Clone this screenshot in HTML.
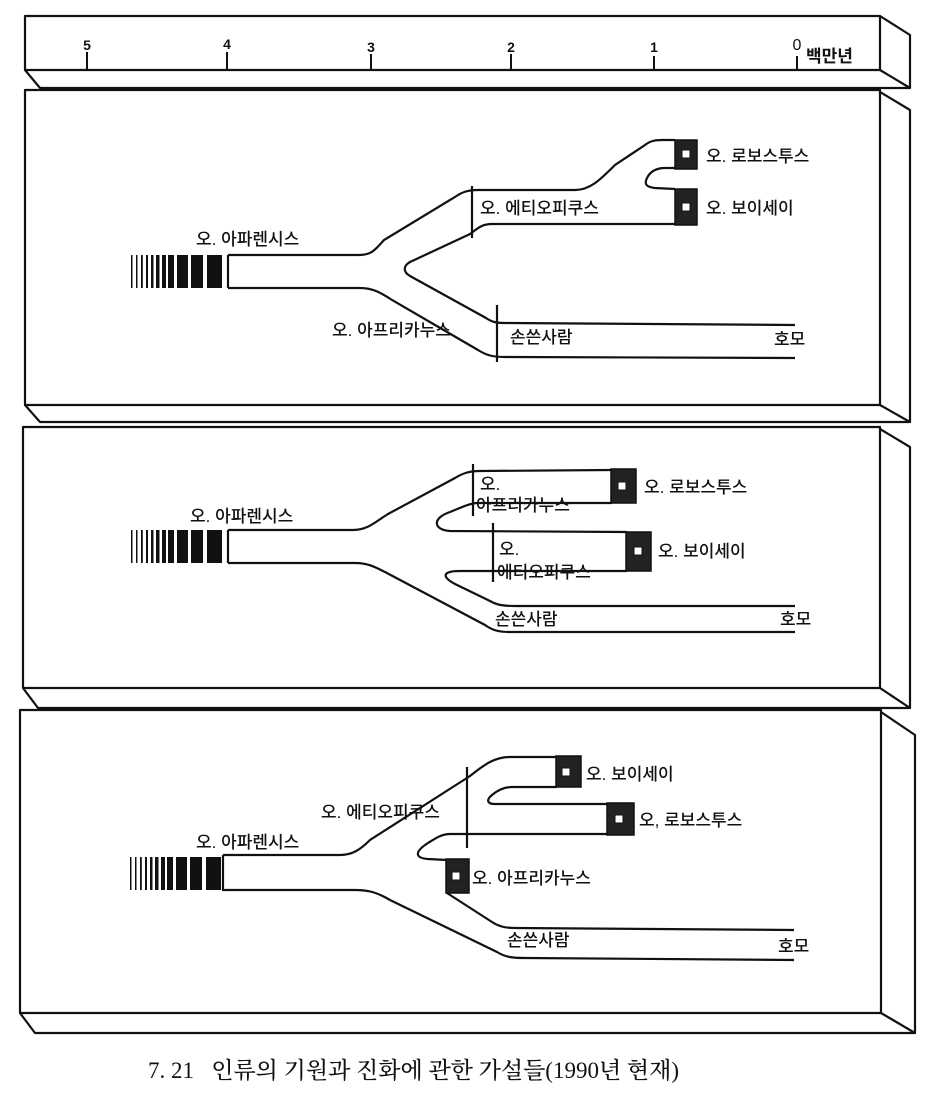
<!DOCTYPE html>
<html><head><meta charset="utf-8"><style>
html,body{margin:0;padding:0;background:#fff;}
svg{display:block;}
text{font-family:"Liberation Sans","Noto Sans CJK KR",sans-serif;font-size:17px;fill:#111;font-weight:500;}
.cap{font-family:"Liberation Serif","Noto Serif CJK KR",serif;font-size:23px;}
</style></head><body>
<svg width="940" height="1096" viewBox="0 0 940 1096" xmlns="http://www.w3.org/2000/svg">
<defs>
<g id="bars" fill="#111">
<rect x="0" y="0" width="1.5" height="33"/><rect x="5" y="0" width="1.5" height="33"/>
<rect x="10" y="0" width="1.8" height="33"/><rect x="15" y="0" width="2" height="33"/>
<rect x="20" y="0" width="2.5" height="33"/><rect x="25" y="0" width="3.5" height="33"/>
<rect x="31" y="0" width="4" height="33"/><rect x="37" y="0" width="6" height="33"/>
<rect x="46" y="0" width="11" height="33"/><rect x="60" y="0" width="12" height="33"/>
<rect x="76" y="0" width="15" height="33"/>
</g>
</defs>
<g fill="none" stroke="#111" stroke-width="2.2" stroke-linejoin="round">
<rect x="25" y="16" width="855" height="54"/>
<path d="M880 16 L910 35 L910 88 L880 70 M25 70 L40 88 L910 88"/>
<rect x="25" y="90" width="855" height="315"/>
<path d="M880 92 L910 110 L910 422 L880 405 M25 405 L40 422 L910 422"/>
<rect x="23" y="427" width="857" height="261"/>
<path d="M880 429 L910 447 L910 708 L880 688 M23 688 L38 708 L910 708"/>
<rect x="20" y="710" width="861" height="303"/>
<path d="M881 712 L915 735 L915 1033 L881 1013 M20 1013 L35 1033 L915 1033"/>
</g>
<g stroke="#111" stroke-width="2">
<line x1="87" y1="52" x2="87" y2="70"/><line x1="227" y1="52" x2="227" y2="70"/>
<line x1="371" y1="54" x2="371" y2="70"/><line x1="511" y1="54" x2="511" y2="70"/>
<line x1="654" y1="56" x2="654" y2="70"/><line x1="797" y1="56" x2="797" y2="70"/>
</g>
<g text-anchor="middle">
<text x="87" y="50" style="font-size:14px;font-weight:bold">5</text><text x="227" y="49" style="font-size:14px;font-weight:bold">4</text>
<text x="371" y="52" style="font-size:14px;font-weight:bold">3</text><text x="511" y="52" style="font-size:14px;font-weight:bold">2</text>
<text x="654" y="52" style="font-size:14px;font-weight:bold">1</text><text x="797" y="50" style="font-size:16px">0</text>
</g>
<text x="806" y="62" style="font-size:17px;font-weight:bold">백만년</text>

<use href="#bars" x="131" y="255"/>
<use href="#bars" x="131" y="530"/>
<use href="#bars" x="130" y="857"/>

<g fill="none" stroke="#111" stroke-width="2.2">
<path d="M228 255 V288"/>
<path d="M228 255 L358 255 C372 255 375 250 384 240 L455 197 C462 192 468 190 478 190 L575 190 C590 190 600 180 615 165 L645 145 C650 141 655 140 662 140 L675 140"/>
<path d="M675 168 L665 168 C655 168 650 172 647 178 C644 184 646 187 655 188 L675 189"/>
<path d="M675 224 L492 224 C482 224 478 228 470 234 L410 262 C403 266 403 272 410 276 L486 318 C492 322 496 323 505 323 L795 325"/>
<path d="M228 288 L360 288 C372 288 380 292 392 300 L478 350 C486 355 492 357 505 357 L795 358"/>
<line x1="472" y1="186" x2="472" y2="238"/>
<line x1="497" y1="305" x2="497" y2="362"/>
<path d="M228 530 V563"/>
<path d="M228 530 L353 530 C368 530 375 522 388 514 L455 478 C463 473 470 471 480 471 L612 470"/>
<path d="M612 503 L478 503 C470 503 460 508 450 512 C432 518 433 530 450 531 L627 532"/>
<path d="M627 571 L460 571 C444 571 440 576 455 584 L490 601 C497 605 503 606 515 606 L795 606"/>
<path d="M228 563 L355 563 C368 563 375 567 385 572 L485 625 C492 630 498 632 510 632 L795 632"/>
<line x1="473" y1="464" x2="473" y2="516"/>
<line x1="493" y1="523" x2="493" y2="582"/>
<path d="M223 855 V891"/>
<path d="M223 855 L340 855 C352 855 360 850 370 840 L470 776 C485 764 495 757 510 757 L557 757"/>
<path d="M557 787 L512 787 C504 787 498 790 492 795 C486 800 487 804 495 804 L608 804"/>
<path d="M608 834 L450 834 C442 834 436 838 428 843 C414 852 415 858 428 859 L447 860"/>
<path d="M447 893 L492 922 C498 926 504 928 515 928 L794 930"/>
<path d="M223 890 L355 890 C370 890 378 893 390 900 L497 952 C505 957 512 958 525 958 L794 960"/>
<line x1="467" y1="767" x2="467" y2="848"/>
</g>

<g fill="#222" stroke="#111" stroke-width="1.5">
<rect x="675" y="140" width="22" height="29"/>
<rect x="675" y="189" width="22" height="36"/>
<rect x="611" y="469" width="25" height="34"/>
<rect x="626" y="532" width="25" height="39"/>
<rect x="556" y="756" width="25" height="31"/>
<rect x="607" y="803" width="27" height="32"/>
<rect x="446" y="859" width="23" height="34"/>
</g>
<g fill="#fff" stroke="#111" stroke-width="1">
<rect x="682" y="150" width="8" height="8"/>
<rect x="682" y="203" width="8" height="8"/>
<rect x="618" y="482" width="8" height="8"/>
<rect x="634" y="547" width="8" height="8"/>
<rect x="562" y="768" width="8" height="8"/>
<rect x="615" y="815" width="8" height="8"/>
<rect x="452" y="872" width="8" height="8"/>
</g>

<text x="196" y="245">오. 아파렌시스</text>
<text x="706" y="162">오. 로보스투스</text>
<text x="706" y="214">오. 보이세이</text>
<text x="480" y="214">오. 에티오피쿠스</text>
<text x="332" y="336">오. 아프리카누스</text>
<text x="510" y="343">손쓴사람</text>
<text x="774" y="345">호모</text>
<text x="190" y="522">오. 아파렌시스</text>
<text x="644" y="493">오. 로보스투스</text>
<text x="658" y="557">오. 보이세이</text>
<text x="480" y="490">오.</text>
<text x="476" y="511">아프리카누스</text>
<text x="499" y="555">오.</text>
<text x="497" y="578">에티오피쿠스</text>
<text x="495" y="625">손쓴사람</text>
<text x="780" y="625">호모</text>
<text x="196" y="848">오. 아파렌시스</text>
<text x="321" y="818">오. 에티오피쿠스</text>
<text x="586" y="780">오. 보이세이</text>
<text x="639" y="826">오, 로보스투스</text>
<text x="472" y="884">오. 아프리카누스</text>
<text x="507" y="946">손쓴사람</text>
<text x="778" y="952">호모</text>

<text class="cap" x="148" y="1078">7. 21&#160;&#160;&#160;인류의 기원과 진화에 관한 가설들(1990년 현재)</text>
</svg>
</body></html>
